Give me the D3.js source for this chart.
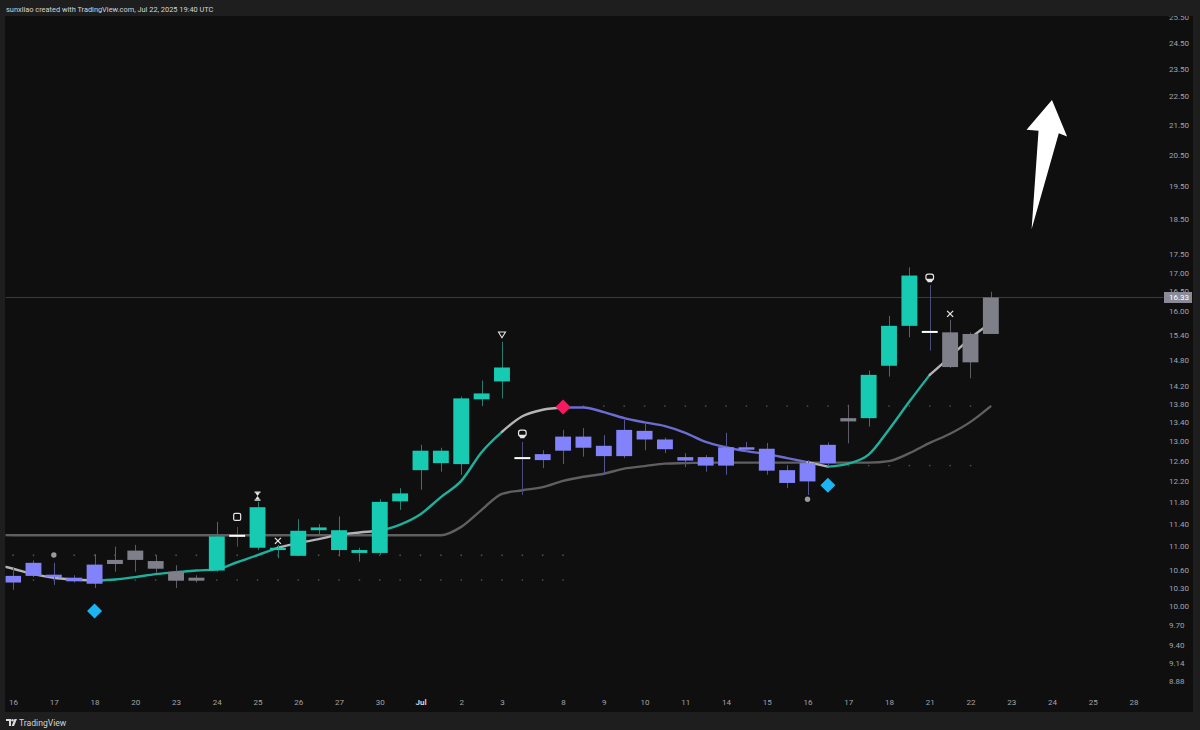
<!DOCTYPE html>
<html><head><meta charset="utf-8">
<script src="https://cdn.jsdelivr.net/npm/d3@7"></script>
<style>
html,body{margin:0;padding:0;background:#1e1e1e;overflow:hidden;}
svg{display:block;}
</style></head><body>
<svg id="c" width="1200" height="730"></svg>
<script>
// ---------- DATA ----------
const sessions = ["Jun16a","Jun16b","Jun17a","Jun17b","Jun18a","Jun18b","Jun20a","Jun20b","Jun23a","Jun23b",
  "Jun24a","Jun24b","Jun25a","Jun25b","Jun26a","Jun26b","Jun27a","Jun27b","Jun30a","Jun30b",
  "Jul1a","Jul1b","Jul2a","Jul2b","Jul3a","Jul7a","Jul7b","Jul8a","Jul8b","Jul9a","Jul9b",
  "Jul10a","Jul10b","Jul11a","Jul11b","Jul14a","Jul14b","Jul15a","Jul15b","Jul16a","Jul16b",
  "Jul17a","Jul17b","Jul18a","Jul18b","Jul21a","Jul21b","Jul22a","Jul22b"];
const open  = [10.38,10.49,10.51,10.46,10.36,10.69,10.76,10.74,10.56,10.41,
  10.58,11.18,10.97,10.93,10.83,11.28,11.28,10.93,10.88,11.81,
  12.41,12.55,12.53,13.89,14.29,12.65,12.61,12.80,13.09,12.90,
  12.69,13.21,13.03,12.67,12.67,12.50,12.87,12.84,12.41,12.19,
  12.55,13.41,13.48,14.65,15.61,15.46,15.45,14.73,15.41];
const high  = [10.64,10.75,10.71,10.50,10.86,10.99,11.02,10.84,10.67,10.50,
  11.43,11.34,11.80,11.02,11.48,11.39,11.53,10.97,11.85,12.06,
  12.92,12.86,13.95,14.31,15.22,12.98,12.81,13.23,13.27,13.12,
  13.44,13.38,13.07,12.75,12.71,13.17,12.98,12.96,12.51,12.61,
  12.97,13.77,14.54,15.86,17.13,16.66,15.76,15.45,16.48];
const low   = [10.26,10.47,10.34,10.38,10.29,10.56,10.56,10.54,10.29,10.38,
  10.56,10.99,10.93,10.79,10.83,11.21,10.82,10.73,10.85,11.65,
  12.03,12.38,12.32,13.74,13.91,11.93,12.45,12.53,12.68,12.32,
  12.65,12.81,12.75,12.47,12.38,12.32,12.77,12.32,12.06,11.93,
  12.49,12.95,13.30,14.40,15.33,15.01,14.60,14.36,15.41];
const close = [10.49,10.71,10.47,10.40,10.68,10.76,10.92,10.61,10.41,10.46,
  11.17,11.17,11.70,10.97,11.27,11.33,10.93,10.88,11.80,11.96,
  12.80,12.80,13.91,14.02,14.61,12.64,12.73,13.09,12.86,12.69,
  13.23,13.03,12.83,12.60,12.50,12.87,12.82,12.40,12.16,12.55,
  12.92,13.48,14.44,15.61,16.91,15.45,14.62,15.41,16.33];
// candle colour state: p = purple, g = gray, t = teal, w = white (neutral)
const candleState = ["p","p","p","p","p","g","g","g","g","g",
  "t","w","t","t","t","t","t","t","t","t",
  "t","t","t","t","t","w","p","p","p","p",
  "p","p","p","p","p","p","p","p","p","p",
  "p","g","t","t","t","w","g","g","g"];
// moving averages start one session earlier (bar -1, just off the left edge)
const maFirstBar = -1;
const fastMA = [10.69,
  10.61,10.52,10.46,10.43,10.41,10.43,10.47,10.52,10.55,10.58,
  10.60,10.72,10.84,10.97,11.05,11.12,11.20,11.24,11.27,11.38,
  11.57,11.89,12.20,12.77,13.19,13.52,13.66,13.71,13.71,13.61,
  13.48,13.39,13.31,13.17,12.98,12.87,12.79,12.73,12.65,12.57,
  12.48,12.54,12.72,13.24,13.84,14.44,14.86,15.31,15.68];
const fastState = ["g",
  "g","g","g","g","g","t","t","t","t","t",
  "t","t","t","t","g","g","g","g","g","t",
  "t","t","t","t","t","g","g","g","p","p",
  "p","p","p","p","p","p","p","p","p","p",
  "g","t","t","t","t","t","g","g","g"];
const slowMA = [11.20,
  11.19,11.19,11.19,11.19,11.19,11.19,11.19,11.19,11.19,11.19,
  11.19,11.19,11.19,11.19,11.19,11.19,11.19,11.19,11.19,11.19,
  11.19,11.19,11.34,11.65,11.95,12.02,12.08,12.20,12.28,12.34,
  12.44,12.49,12.54,12.55,12.56,12.56,12.56,12.56,12.56,12.56,
  12.56,12.56,12.56,12.59,12.75,12.96,13.15,13.40,13.74];
const priceTicks = [25.5,24.5,23.5,22.5,21.5,20.5,19.5,18.5,17.5,17.0,16.5,16.0,15.4,14.8,14.2,13.8,13.4,13.0,12.6,12.2,11.8,11.4,11.0,10.6,10.3,10.0,9.7,9.4,9.14,8.88];
const timeLabels = ["16","17","18","20","23","24","25","26","27","30","Jul","2","3","8","9","10","11","14","15","16","17","18","21","22","23","24","25","28"];
const timeLabelBars = [0,2,4,6,8,10,12,14,16,18,20,22,24,27,29,31,33,35,37,39,41,43,45,47,49,51,53,55];
const lastPrice = 16.33;
// signal markers: bar index, price level, type
const markerBars   = [11,12,13,24,25,45,46];
const markerPrices = [11.52,11.91,11.09,15.39,13.14,16.84,15.91];
const markerTypes  = ["square","hourglass","x","tri","cup","cup","x"];
const diamondBars   = [4,40,27];
const diamondPrices = [9.92,12.115,13.72];
const diamondColors = ["cyan","cyan","pink"];
const pivotBars   = [2,39];
const pivotPrices = [10.844,11.849];
// faint level dots: price, from bar, to bar
const dotLevelPrices = [10.84,10.42,13.74,12.50];
const dotLevelFrom   = [0,0,27,41];
const dotLevelTo     = [27,27,48,47];
// hand-drawn arrow annotation: tail (bar, price) -> tip (bar, price)
const arrowTail = [50, 18.2];
const arrowTip  = [51, 22.35];

// ---------- STYLE ----------
const candleColor = {p:"#8282fa", g:"#7e7f89", t:"#17cbb3", w:"#ffffff"};
const wickColor   = {p:"#56568f", g:"#5b5c64", t:"#2f7a70", w:"#4c4c78"};
const fastColor   = {p:"#6c6cd2", g:"#b4b4b8", t:"#1fb09d"};
const FONT = "Roboto, 'Liberation Sans', sans-serif";

const svg = d3.select("#c");
svg.append("rect").attr("width",1200).attr("height",730).attr("fill","#1e1e1e");
svg.append("rect").attr("x",5).attr("y",16).attr("width",1188).attr("height",696).attr("fill","#0f0f0f");

const x = d3.scaleLinear().domain([0,55]).range([13.1, 13.1 + 55*20.37]);
const y = d3.scaleLog().domain([8.88,24.5]).range([680.7,42.3]);
const step = x(1)-x(0);
const bw = step*0.78;

svg.append("defs").append("clipPath").attr("id","plot")
  .append("rect").attr("x",5.5).attr("y",16).attr("width",1158).attr("height",672);
const plot = svg.append("g").attr("clip-path","url(#plot)");

// last price line
plot.append("line").attr("x1",5).attr("x2",1164)
  .attr("y1",Math.round(y(lastPrice))+0.5).attr("y2",Math.round(y(lastPrice))+0.5)
  .attr("stroke","#3a3a3d").attr("stroke-width",1);

// level dots
dotLevelPrices.forEach((p,k)=>{
  const idx = d3.range(dotLevelFrom[k], dotLevelTo[k]+1);
  plot.append("g").selectAll("circle").data(idx).join("circle")
    .attr("cx",i=>x(i)).attr("cy",y(p)).attr("r",0.9).attr("fill","#4a4a4e");
});

// moving averages
const line = d3.line().x(d=>x(d[0])).y(d=>y(d[1])).curve(d3.curveMonotoneX);
plot.append("path").datum(slowMA.map((v,i)=>[i+maFirstBar,v])).attr("d",line)
  .attr("fill","none").attr("stroke","#5f5f62").attr("stroke-width",2.4).attr("stroke-linejoin","round");
let runs=[]; let cur=null;
for(let i=1;i<fastMA.length;i++){
  const s=fastState[i];
  if(!cur||cur.s!==s){cur={s,pts:[[i-1+maFirstBar,fastMA[i-1]]]};runs.push(cur);}
  cur.pts.push([i+maFirstBar,fastMA[i]]);
}
runs.forEach(r=>{
  plot.append("path").datum(r.pts).attr("d",line).attr("fill","none")
    .attr("stroke",fastColor[r.s]).attr("stroke-width",2.4).attr("stroke-linecap","round");
});

// candles
const bars = sessions.map((s,i)=>({i,o:open[i],h:high[i],l:low[i],c:close[i],st:candleState[i]}));
plot.append("g").selectAll("line").data(bars).join("line")
  .attr("x1",d=>Math.round(x(d.i))+0.5).attr("x2",d=>Math.round(x(d.i))+0.5)
  .attr("y1",d=>y(d.h)).attr("y2",d=>y(d.l))
  .attr("stroke",d=>wickColor[d.st]).attr("stroke-width",1);
plot.append("g").selectAll("rect").data(bars).join("rect")
  .attr("x",d=>x(d.i)-bw/2).attr("width",bw)
  .attr("y",d=>d.st==="w" ? y(Math.max(d.o,d.c))-1 : y(Math.max(d.o,d.c)))
  .attr("height",d=>d.st==="w" ? 2 : Math.max(1.5, Math.abs(y(d.o)-y(d.c))))
  .attr("fill",d=>candleColor[d.st]);

// pivot dots
pivotBars.forEach((b,k)=>{
  plot.append("circle").attr("cx",x(b)).attr("cy",y(pivotPrices[k])).attr("r",2.7).attr("fill","#9a9a9e");
});
// diamonds
diamondBars.forEach((b,k)=>{
  const cx=x(b), cy=y(diamondPrices[k]), r=7.5;
  plot.append("path").attr("d",`M${cx},${cy-r}L${cx+r},${cy}L${cx},${cy+r}L${cx-r},${cy}Z`)
    .attr("fill",diamondColors[k]==="cyan"?"#19b6f3":"#f7195f");
});
// markers
markerBars.forEach((b,k)=>{
  const g = plot.append("g").attr("transform",`translate(${x(b)},${y(markerPrices[k])})`);
  const t = markerTypes[k], col="#e6e6e6";
  if(t==="square") g.append("rect").attr("x",-3.5).attr("y",-3.5).attr("width",7).attr("height",7).attr("rx",1.5)
      .attr("fill","none").attr("stroke",col).attr("stroke-width",1.2);
  if(t==="x") g.append("path").attr("d","M-3,-3L3,3M3,-3L-3,3").attr("stroke",col).attr("stroke-width",1.3);
  if(t==="tri") g.append("path").attr("d","M-3.5,-2.8L3.5,-2.8L0,3Z").attr("fill","none").attr("stroke",col).attr("stroke-width",1.1);
  if(t==="hourglass"){
    g.append("path").attr("d","M-3,-4H3M-3,4H3").attr("stroke",col).attr("stroke-width",1.2);
    g.append("path").attr("d","M-2.5,-3.5L2.5,-3.5L0,0ZM-2.5,3.5L2.5,3.5L0,0Z").attr("fill",col);
  }
  if(t==="cup"){
    g.append("rect").attr("x",-3.8).attr("y",-4).attr("width",7.6).attr("height",6).attr("rx",2.2)
      .attr("fill","none").attr("stroke",col).attr("stroke-width",1.2);
    g.append("path").attr("d","M-3.5,0.5H3.5L2,4H-2Z").attr("fill",col);
  }
});

// arrow annotation
(function(){
  const tx=x(arrowTip[0]), ty=y(arrowTip[1]), bx=x(arrowTail[0]), by=y(arrowTail[1]);
  const len=Math.hypot(tx-bx,ty-by), ux=(tx-bx)/len, uy=(ty-by)/len, nx=-uy, ny=ux;
  const P=(a,n)=>[tx+ux*a+nx*n, ty+uy*a+ny*n];
  const pts=[[tx,ty],P(-33.2,-20.5),P(-32.4,-8.5),[bx,by],P(-31.6,11.9),P(-33.7,20.6)];
  svg.append("path").attr("d","M"+pts.map(p=>p.join(",")).join("L")+"Z").attr("fill","#ffffff");
})();

// price axis
const ya = svg.append("g").attr("transform","translate(1169,0)")
  .call(d3.axisRight(y).tickValues(priceTicks).tickSize(0).tickPadding(0).tickFormat(d=>d.toFixed(2)));
ya.select(".domain").remove();
ya.selectAll("text").attr("fill","#a3a3a8").attr("font-family",FONT).attr("font-size","8px").attr("dy","0.35em");
// last price label (covers the 16.50 tick like the reference)
svg.append("rect").attr("x",1164).attr("y",y(lastPrice)-5.5).attr("width",28).attr("height",11).attr("fill","#8a8b97");
svg.append("text").attr("x",1169).attr("y",y(lastPrice)).attr("dy","0.35em").attr("fill","#ffffff")
  .attr("font-family",FONT).attr("font-size","8px").text(lastPrice.toFixed(2));

// time axis
const xa = svg.append("g").attr("transform","translate(0,702)")
  .call(d3.axisBottom(x).tickValues(timeLabelBars).tickSize(0).tickPadding(0).tickFormat((d,i)=>timeLabels[i]));
xa.select(".domain").remove();
xa.selectAll("text").attr("dy","0.35em").attr("font-family",FONT).attr("font-size","8px")
  .attr("fill",(d,i)=>timeLabels[i]==="Jul"?"#d6d6da":"#a3a3a8")
  .attr("font-weight",(d,i)=>timeLabels[i]==="Jul"?"bold":"normal");

// header & footer
svg.append("rect").attr("width",1200).attr("height",16).attr("fill","#1e1e1e");
svg.append("text").attr("x",6).attr("y",11.5).attr("fill","#d4d4d8").attr("font-family",FONT).attr("font-size","7.4px")
  .text("sunxliao created with TradingView.com, Jul 22, 2025 19:40 UTC");
const logo = svg.append("g").attr("transform","translate(6,719)").attr("fill","#dcdcdc");
logo.append("path").attr("d","M0,0H5V7H3V2H0Z");
logo.append("circle").attr("cx",6.5).attr("cy",1.2).attr("r",1.2);
logo.append("path").attr("d","M8.5,0H11L8,7H5.6Z");
svg.append("text").attr("x",19).attr("y",725.5).attr("fill","#d4d4d8").attr("font-family",FONT).attr("font-size","8.6px")
  .text("TradingView");
</script>
</body></html>
